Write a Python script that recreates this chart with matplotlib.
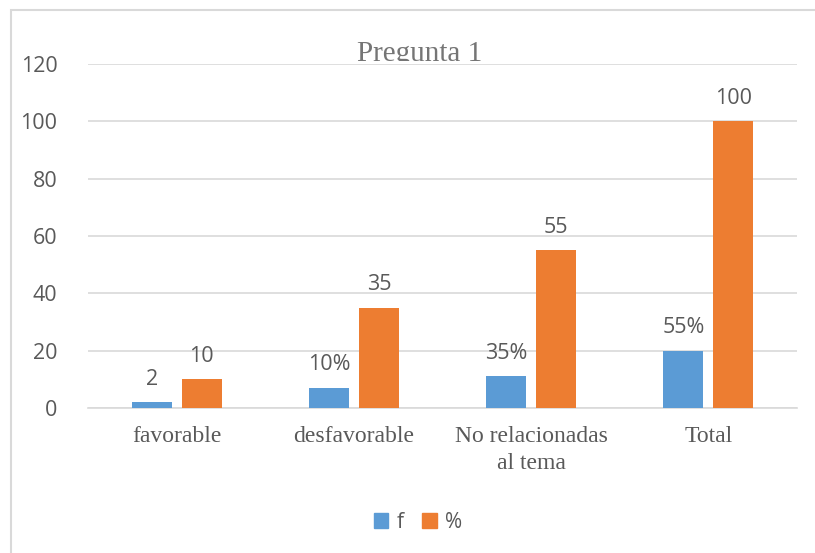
import matplotlib
matplotlib.use("Agg")
import matplotlib.pyplot as plt
from matplotlib.patches import Rectangle, Patch
import numpy as np

categories = ["favorable", "desfavorable", "No relacionadas\nal tema", "Total"]
f_values = [2, 7, 11, 20]
pct_values = [10, 35, 55, 100]
f_labels = ["2", "10%", "35%", "55%"]
pct_labels = ["10", "35", "55", "100"]
yticks = [0, 20, 40, 60, 80, 100, 120]

BLUE = "#5B9BD5"
ORANGE = "#ED7D31"
TXT = "#595959"
GRID = "#D9D9D9"
SANS = ["Open Sans", "DejaVu Sans"]
SERIF = ["Liberation Serif", "DejaVu Serif"]

W, H = 815, 553
fig = plt.figure(figsize=(W / 100, H / 100), dpi=100)
ax = fig.add_axes([88 / W, 1 - 408 / H, (797 - 88) / W, (408 - 64) / H])

x = np.arange(len(categories))
bw = 0.226
off = 0.141
b1 = ax.bar(x - off, f_values, bw, color=BLUE, zorder=3)
b2 = ax.bar(x + off, pct_values, bw, color=ORANGE, zorder=3)

for rect, lab in zip(b1, f_labels):
    ax.annotate(lab, (rect.get_x() + rect.get_width() / 2, rect.get_height()),
                xytext=(0, 9), textcoords="offset points", ha="center", va="bottom",
                fontsize=15.5, color=TXT, family=SANS, zorder=4)
for rect, lab in zip(b2, pct_labels):
    ax.annotate(lab, (rect.get_x() + rect.get_width() / 2, rect.get_height()),
                xytext=(0, 9), textcoords="offset points", ha="center", va="bottom",
                fontsize=15.5, color=TXT, family=SANS, zorder=4)

ax.set_xlim(-0.5, len(categories) - 0.5)
ax.set_ylim(0, 120)
ax.set_yticks(yticks)
ax.set_yticklabels([str(v) for v in yticks], fontsize=15.5, color=TXT, family=SANS)
ax.set_xticks(x)
ax.set_xticklabels(categories, fontsize=17, color=TXT, family=SERIF, linespacing=1.4)
ax.tick_params(axis="both", length=0)
ax.tick_params(axis="y", pad=22)
ax.tick_params(axis="x", pad=13)
ax.grid(axis="y", color=GRID, linewidth=1.2, zorder=0)
for s in ["top", "right", "left"]:
    ax.spines[s].set_visible(False)
ax.spines["bottom"].set_color(GRID)
ax.spines["bottom"].set_linewidth(1.2)

# title (clipped just above the top gridline, as in the reference)
t = fig.text(420 / W, 1 - 61 / H, "Pregunta 1", ha="center", va="baseline",
             fontsize=21, color="#757575", family=SERIF)
clip = Rectangle((0, 1 - 61 / H), 1, 61 / H, transform=fig.transFigure)
t.set_clip_path(clip)

# chart frame
frame = Rectangle((11 / W, -0.1), 1.1, 1 - 10 / H + 0.1, transform=fig.transFigure,
                  fill=False, edgecolor=GRID, linewidth=1.5, zorder=0)
fig.patches.append(frame)

handles = [Patch(color=BLUE, label="f"), Patch(color=ORANGE, label="%")]
leg = fig.legend(handles=handles, loc="center", bbox_to_anchor=(418 / W, 1 - 522 / H),
                 ncol=2, frameon=False, handlelength=0.7, handleheight=0.7,
                 handletextpad=0.4, columnspacing=0.9,
                 prop={"family": SANS, "size": 15})
for tx in leg.get_texts():
    tx.set_color(TXT)

fig.savefig("out.png", dpi=100)
